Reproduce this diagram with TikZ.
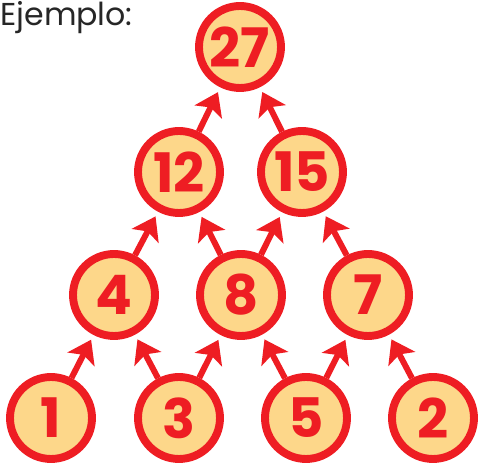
\documentclass[tikz,border=0pt]{standalone}
\usepackage{fontspec}
\setmainfont{Poppins}
\usepackage{xcolor}
\usetikzlibrary{arrows.meta}
\definecolor{numred}{HTML}{EE1D23}
\definecolor{numfill}{HTML}{FDD78A}
\begin{document}
\begin{tikzpicture}[
  x=0.02cm, y=-0.02cm,
  num/.style={circle, draw=numred, line width=4.5pt, fill=numfill, minimum size=1.64cm, inner sep=0pt, text=numred, font=\fontsize{31}{31}\selectfont\bfseries},
  arr/.style={-{Stealth[length=0.44cm, width=0.6cm, inset=0.1cm]}, line width=3.4pt, numred, shorten >=3pt},
]
\useasboundingbox (0,0) rectangle (481,465);

% título
\node[anchor=base west, inner sep=0pt, font=\fontsize{18}{18}\selectfont, text=black!85] (title) at (0,26) {Ejemplo:};

% fila de abajo
\node[num] (n1) at (51,418) {1};
\node[num] (n3) at (179,418) {3};
\node[num] (n5) at (306,418) {5};
\node[num] (n2) at (433,418) {2};

% segunda fila
\node[num] (n4) at (114,295) {4};
\node[num] (n8) at (241,295) {8};
\node[num] (n7) at (368,295) {7};

% tercera fila
\node[num] (n12) at (179,172) {12};
\node[num] (n15) at (302,172) {15};

% arriba
\node[num] (n27) at (240,47) {27};

% flechas
\draw[arr] (n1) -- (n4);
\draw[arr] (n3) -- (n4);
\draw[arr] (n3) -- (n8);
\draw[arr] (n5) -- (n8);
\draw[arr] (n5) -- (n7);
\draw[arr] (n2) -- (n7);
\draw[arr] (n4) -- (n12);
\draw[arr] (n8) -- (n12);
\draw[arr] (n8) -- (n15);
\draw[arr] (n7) -- (n15);
\draw[arr] (n12) -- (n27);
\draw[arr] (n15) -- (n27);

\end{tikzpicture}
\end{document}
